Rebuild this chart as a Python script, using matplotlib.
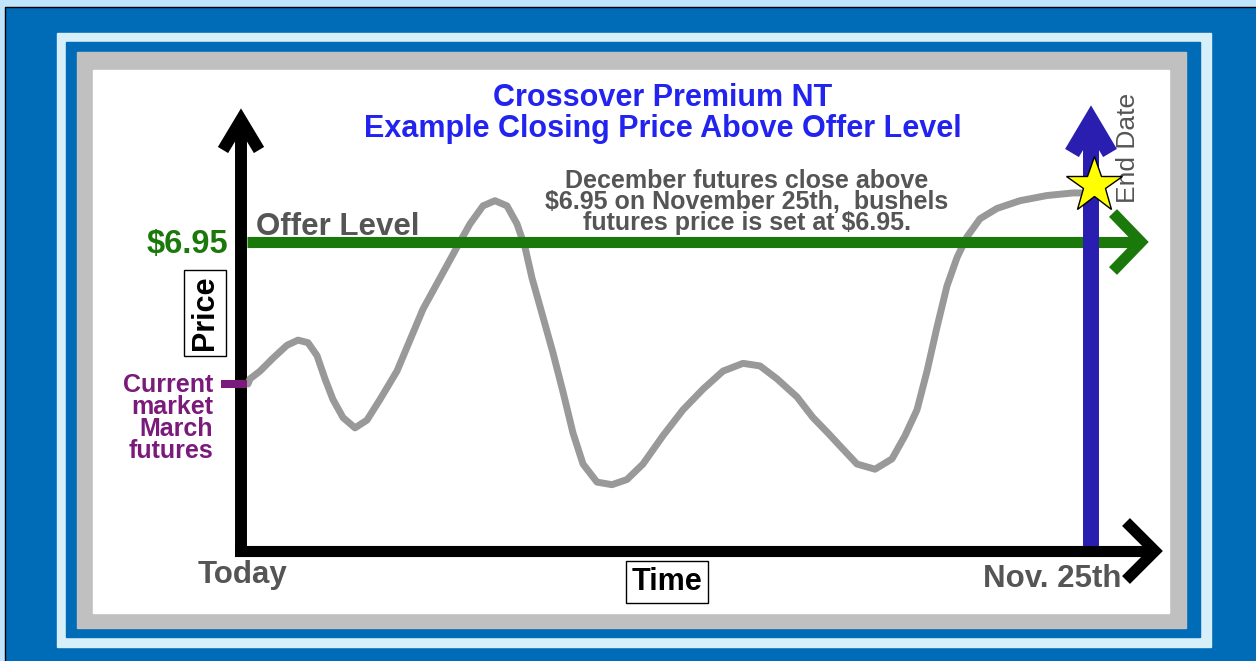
"""Crossover Premium NT - closing price above offer level example"""
import matplotlib
matplotlib.use('Agg')
import matplotlib.pyplot as plt
from matplotlib.patches import Rectangle
from matplotlib import transforms

plt.rcParams['font.family'] = ['Liberation Sans', 'DejaVu Sans']

# time as percent of the period (Today = 0, Nov. 25th = 100), price in $
days = [0.82, 1.06, 2.24, 3.76, 5.41, 6.71, 7.88, 8.94, 9.88, 10.82,
        12.0, 13.41, 14.82, 16.35, 18.35, 19.88, 21.41, 23.41, 25.41, 26.94,
        28.47, 29.88, 31.29, 32.47, 33.41, 34.24, 35.18, 36.71, 37.88, 39.06,
        40.24, 41.88, 43.65, 45.41, 47.29, 49.65, 52.0, 54.35, 56.71, 59.06,
        61.06, 63.06, 65.41, 67.29, 69.06, 70.47, 72.47, 74.59, 76.59, 78.12,
        79.53, 80.71, 81.88, 83.06, 84.24, 85.41, 86.94, 88.94, 91.65, 94.82,
        97.88, 99.06]
prices = [6.40, 6.42, 6.45, 6.50, 6.55, 6.57, 6.56, 6.51, 6.42, 6.34,
          6.27, 6.23, 6.26, 6.34, 6.45, 6.57, 6.69, 6.81, 6.93, 7.02,
          7.09, 7.11, 7.09, 7.02, 6.93, 6.81, 6.70, 6.52, 6.37, 6.21,
          6.09, 6.02, 6.01, 6.03, 6.09, 6.20, 6.30, 6.38, 6.45, 6.48,
          6.47, 6.42, 6.35, 6.27, 6.21, 6.16, 6.09, 6.07, 6.11, 6.20,
          6.30, 6.45, 6.62, 6.78, 6.89, 6.97, 7.04, 7.08, 7.11, 7.13,
          7.14, 7.14]
offer_level = 6.95
current_price = 6.40
end_day = 100
close_price = 7.17

W, H = 1256, 661
fig = plt.figure(figsize=(W / 100, H / 100), dpi=100)

# background axes in pixel units for frames and labels
bg = fig.add_axes([0, 0, 1, 1])
bg.set_xlim(0, W)
bg.set_ylim(H, 0)
bg.axis('off')

bg.add_patch(Rectangle((0, 0), W, H, color='#bfe4fb'))
bg.add_patch(Rectangle((5, 7), W, H, facecolor='#006cb7', edgecolor='black', lw=1))
bg.add_patch(Rectangle((57, 33), 1154, 614, color='#d6eff9'))
bg.add_patch(Rectangle((66, 42), 1134, 595, color='#006cb7'))
bg.add_patch(Rectangle((77, 52), 1109, 576, color='#c0c0c0'))
bg.add_patch(Rectangle((93, 70), 1076, 543, color='white'))

# data axes: day 0 at x=241px, day 100 at x=1091px; $6.95 at y=242px, $6.40 at y=384px
ax = fig.add_axes([0, 0, 1, 1])
ax.patch.set_alpha(0)
ax.axis('off')
xs = (1091 - 241) / 100
ys = (384 - 242) / (offer_level - current_price)
ax.set_xlim(-241 / xs, (W - 241) / xs)
ax.set_ylim(offer_level - (H - 242) / ys, offer_level + 242 / ys)


def to_px(x, y):
    """data position -> background pixel position"""
    return bg.transData.inverted().transform(ax.transData.transform((x, y)))


def chevron(tip, arm1, arm2, color, lw, z):
    bg.plot([arm1[0], tip[0], arm2[0]], [arm1[1], tip[1], arm2[1]], color=color,
            lw=lw, solid_joinstyle='miter', solid_capstyle='butt', zorder=z)


# black time / price axes
bg.plot([241, 241], [557, 119], color='black', lw=8.6, solid_capstyle='butt', zorder=3)
chevron((241, 120), (223, 150), (259, 150), 'black', 8.6, 3)
bg.plot([235, 1155], [551, 551], color='black', lw=8, solid_capstyle='butt', zorder=3)
chevron((1155, 551), (1126, 522), (1126, 580), 'black', 8, 3)

# price path
ax.plot(days, prices, color='#999999', lw=5, solid_joinstyle='round',
        solid_capstyle='round', zorder=4)

# offer level arrow
gx, gy = to_px(0, offer_level)
ax.plot([(247 - 241) / xs, (1141 - 241) / xs], [offer_level, offer_level],
        color='#1b780b', lw=8, solid_capstyle='butt', zorder=5)
chevron((1141, gy), (1113, gy - 29), (1113, gy + 29), '#1b780b', 8, 5)

# end date arrow
bx, by = to_px(end_day, offer_level)
ax.plot([end_day, end_day], [offer_level - (546 - 242) / ys, offer_level + (242 - 121) / ys],
        color='#2a1eb0', lw=11.5, solid_capstyle='butt', zorder=6)
chevron((bx, 121), (bx - 19, 153), (bx + 19, 153), '#2a1eb0', 11.5, 6)
ax.plot([end_day + 0.4], [close_price], marker='*', ms=42, mfc='#ffff00',
        mec='black', mew=1, zorder=7)

# current market tick
tr = transforms.blended_transform_factory(bg.transData, ax.transData)
ax.plot([221, 247], [current_price, current_price], color='#7a1a7a', lw=5.8,
        solid_capstyle='butt', transform=tr, zorder=5)

# titles
bg.text(663, 106, 'Crossover Premium NT', color='#2323f0', fontsize=22,
        fontweight='bold', ha='center', va='baseline')
bg.text(663, 137, 'Example Closing Price Above Offer Level', color='#2323f0',
        fontsize=22, fontweight='bold', ha='center', va='baseline')

note = ('December futures close above\n'
        '$6.95 on November 25th,  bushels\n'
        'futures price is set at $6.95.')
bg.text(747, 202, note, color='#555555', fontsize=18, fontweight='bold',
        ha='center', va='center', multialignment='center', linespacing=0.83,
        zorder=8)

bg.text(256, 235, 'Offer Level', color='#555555', fontsize=22.5,
        fontweight='bold', ha='left', va='baseline')
bg.text(228, 253, '$6.95', color='#1b780b', fontsize=23.5, fontweight='bold',
        ha='right', va='baseline')
bg.text(205, 313, 'Price', color='black', fontsize=22, fontweight='bold',
        rotation=90, ha='center', va='center',
        bbox=dict(boxstyle='square,pad=0.2', fc='white', ec='black', lw=1))

bg.text(213, 418, 'Current\nmarket\nMarch\nfutures', color='#7a1a7a',
        fontsize=18, fontweight='bold', ha='right', va='center',
        multialignment='right', linespacing=0.88)

bg.text(198, 583, 'Today', color='#555555', fontsize=22.5, fontweight='bold',
        ha='left', va='baseline')
bg.text(667, 590, 'Time', color='black', fontsize=22, fontweight='bold',
        ha='center', va='baseline',
        bbox=dict(boxstyle='square,pad=0.2', fc='white', ec='black', lw=1))
bg.text(983, 587, 'Nov. 25th', color='#555555', fontsize=22.5, fontweight='bold',
        ha='left', va='baseline')
bg.text(1128, 148, 'End Date', color='#555555', fontsize=19, rotation=90,
        ha='center', va='center', zorder=8)

fig.savefig('out.png', dpi=100)
